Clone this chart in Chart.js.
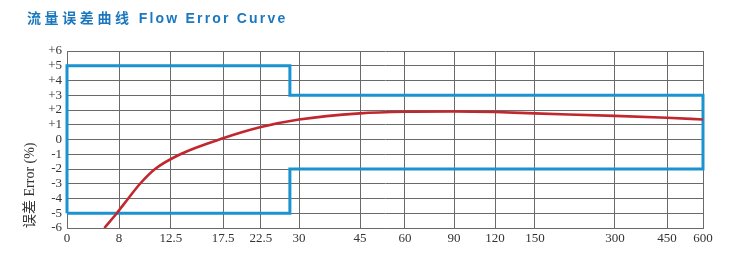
<!DOCTYPE html>
<html>
<head>
<meta charset="utf-8">
<script src="https://cdn.jsdelivr.net/npm/chart.js@4/dist/chart.umd.min.js"></script>
<style>
  html, body { margin: 0; padding: 0; background: #fff; }
  #wrap { position: relative; width: 750px; height: 263px; }
  #title {
    position: absolute; left: 27px; top: 7px;
    font-family: 'Liberation Sans', 'Noto Sans CJK SC', sans-serif;
    font-weight: bold; font-size: 14px; color: #1b78bf;
    letter-spacing: 3.6px; white-space: nowrap;
  }
  #title .en { letter-spacing: 2.2px; font-size: 14px; }
</style>
</head>
<body>
<div id="wrap">
  <canvas id="c" width="750" height="263"></canvas>
  <div id="title">流量误差曲线<span class="en"> Flow Error Curve</span></div>
</div>
<script>
// ─── data ───────────────────────────────────────────
// x axis: flow values printed under the grid, and where each sits along the axis (0..100)
const flowTicks = [0, 8, 12.5, 17.5, 22.5, 30, 45, 60, 90, 120, 150, 300, 450, 600];
const flowAxisPos = [0, 8.18, 16.35, 24.53, 30.5, 36.48, 46.07, 53.14, 60.85, 67.3, 73.58, 86.16, 94.34, 100];

// error curve (flow, error %)
const curveFlow = [5.75, 7.65, 8.8, 9.82, 11.12, 13.4, 17.5, 22.5, 30, 45, 60, 90, 120, 150, 300, 450, 600];
const curveErr  = [-6, -5, -4, -3, -2, -1.0, 0.08, 0.84, 1.35, 1.77, 1.88, 1.9, 1.86, 1.77, 1.6, 1.47, 1.36];

// permissible error envelope (flow, error %)
const limitFlow = [0, 0, 28.2, 28.2, 600, 600, 28.2, 28.2, 0];
const limitErr  = [-5, 5, 5, 3, 3, -2, -2, -5, -5];

const yTicks = { min: -6, max: 6, step: 1 };

// ─── axis warp (piecewise linear between printed ticks) ──
function warp(q) {
  for (let i = 1; i < flowTicks.length; i++) {
    if (q <= flowTicks[i]) {
      const a = flowTicks[i - 1], b = flowTicks[i];
      const t = (q - a) / (b - a);
      return flowAxisPos[i - 1] + t * (flowAxisPos[i] - flowAxisPos[i - 1]);
    }
  }
  return flowAxisPos[flowAxisPos.length - 1];
}

const toPts = (xs, ys) => xs.map((q, i) => ({ x: warp(q), y: ys[i] }));

const blue = '#1b93d1';
const red = '#c2272d';
const gridCol = '#6a6a6a';
const tickFont = { family: "'Liberation Serif', 'Times New Roman', serif", size: 13 };

new Chart(document.getElementById('c'), {
  type: 'line',
  data: {
    datasets: [
      {
        data: toPts(limitFlow, limitErr),
        borderColor: blue,
        borderWidth: 3,
        pointRadius: 0,
        tension: 0,
        fill: false,
        clip: false,
        borderJoinStyle: 'miter',
        order: 1,
      },
      {
        data: toPts(curveFlow, curveErr),
        borderColor: red,
        borderWidth: 2.6,
        pointRadius: 0,
        cubicInterpolationMode: 'monotone',
        fill: false,
        order: 0,
      },
    ]
  },
  options: {
    responsive: false,
    animation: false,
    events: [],
    layout: { padding: { top: 51, right: 47, left: 0, bottom: 0 } },
    plugins: { legend: { display: false }, tooltip: { enabled: false } },
    scales: {
      x: {
        type: 'linear',
        min: 0, max: 100,
        afterBuildTicks: s => { s.ticks = flowAxisPos.map(v => ({ value: v })); },
        afterFit: s => { s.height = 35; },
        grid: { color: gridCol, lineWidth: 1, drawTicks: false },
        border: { color: gridCol },
        ticks: {
          autoSkip: false, maxRotation: 0, padding: 3,
          color: '#333', font: tickFont,
          callback: (v, i) => flowTicks[i],
        },
      },
      y: {
        min: yTicks.min, max: yTicks.max,
        afterFit: s => { s.width = 67; },
        grid: { color: gridCol, lineWidth: 1, drawTicks: false },
        border: { color: gridCol },
        ticks: {
          stepSize: yTicks.step, padding: 5, autoSkip: false,
          color: '#333', font: tickFont,
          callback: v => (v > 0 ? '+' + v : String(v)),
        },
        title: {
          display: true, align: 'start',
          text: '误差 Error (%)',
          color: '#333',
          font: { family: "'Liberation Serif', 'Noto Sans CJK SC', serif", size: 14 },
          padding: { top: 22, bottom: 2 },
        },
      },
    },
  },
});
</script>
</body>
</html>
